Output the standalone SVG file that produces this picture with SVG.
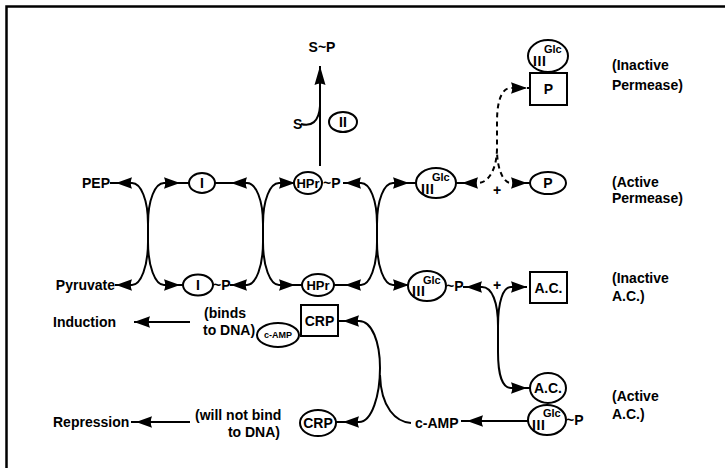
<svg xmlns="http://www.w3.org/2000/svg" width="725" height="468" viewBox="0 0 725 468">
<defs>
<style>
text{font-family:"Liberation Sans",Arial,Helvetica,sans-serif;font-weight:bold;font-size:14px;fill:#000}
.n{fill:#fff;stroke:#000;stroke-width:2}
.c{fill:none;stroke:#000;stroke-width:2}
.d{fill:none;stroke:#000;stroke-width:2;stroke-dasharray:5 4}
.m{text-anchor:middle}
.e{text-anchor:end}
.sup{font-size:11px}
.iii{font-size:14px;letter-spacing:0.6px}
.sm{font-size:9px}
.h{font-size:13px}
</style>
<marker id="ah" markerUnits="userSpaceOnUse" viewBox="-18 -7 19 14" refX="0" refY="0" markerWidth="19" markerHeight="14" orient="auto-start-reverse">
<path d="M0 0 L-16 -5.8 Q-13.5 0 -16 5.8 Z" fill="#000"/>
</marker>
<marker id="av" markerUnits="userSpaceOnUse" viewBox="-20 -7 21 14" refX="0" refY="0" markerWidth="21" markerHeight="14" orient="auto">
<path d="M0 0 L-19 -5.5 Q-16 0 -19 5.5 Z" fill="#000"/>
</marker>
</defs>
<rect width="725" height="468" fill="#fff"/>
<path d="M6.5 468 V6.5 H725" fill="none" stroke="#000" stroke-width="2.5"/>

<g id="connectors">
<path class="c" marker-start="url(#ah)" marker-end="url(#ah)" d="M116 183 H132 C141 183 148 200 148 224 V242 C148 266 141 285 132 285 H116"/>
<path class="c" marker-start="url(#ah)" marker-end="url(#ah)" d="M180 183 H164 C155 183 148 200 148 224 V242 C148 266 155 285 164 285 H180"/>
<path class="c" marker-start="url(#ah)" marker-end="url(#ah)" d="M231 183 H247 C256 183 263 200 263 224 V242 C263 266 256 285 247 285 H231"/>
<path class="c" marker-start="url(#ah)" marker-end="url(#ah)" d="M295 183 H279 C270 183 263 200 263 224 V242 C263 266 270 285 279 285 H295"/>
<path class="c" marker-start="url(#ah)" marker-end="url(#ah)" d="M345 183 H361 C370 183 377 200 377 224 V242 C377 266 370 285 361 285 H345"/>
<path class="c" marker-start="url(#ah)" marker-end="url(#ah)" d="M409 183 H393 C384 183 377 200 377 224 V242 C377 266 384 285 393 285 H409"/>
<path class="c" d="M110 183 H117 M115 285 H117 M179 183 H189 M179 285 H183 M215 183 H232 M230 285 H232 M294 285 H302 M343 183 H346 M334 285 H346 M408 183 H416 M455 183 H462 M527 88 H530 M527 183 H530 M463 287 H466 M527 388 H530 M338 321 H343 M336 422 H343 M461 421 H467 M131 422 H136"/>
<path class="c" marker-end="url(#av)" d="M320 166 V66"/>
<path class="c" d="M301 124 C311 127 319 122 320 106"/>
<path class="d" marker-start="url(#ah)" marker-end="url(#ah)" d="M462 183 H478 C489 183 497 168 497 148 V122 C497 100 502 88 511 88 H527"/>
<path class="d" marker-start="url(#ah)" d="M527 183 H511 C503 183 497 168 497 150"/>
<path class="c" marker-start="url(#ah)" marker-end="url(#ah)" d="M466 287 H482 C492 287 498 302 498 326 V352 C498 376 503 388 511 388 H527"/>
<path class="c" marker-start="url(#ah)" d="M527 287 H511 C503 287 498 302 498 326"/>
<path class="c" marker-start="url(#ah)" marker-end="url(#ah)" d="M343 321 H359 C372 321 380 342 380 368 C380 395 372 422 359 422 H343"/>
<path class="c" d="M411 423 C396 422 381 408 380 375"/>
<path class="c" marker-end="url(#ah)" d="M528 421 H467"/>
<path class="c" marker-end="url(#ah)" d="M190 322 H134"/>
<path class="c" marker-end="url(#ah)" d="M190 422 H136"/>
<text x="497" y="195" class="m">+</text>
<text x="497" y="290" class="m">+</text>
</g>

<g id="pep"><text x="110" y="188" class="e">PEP</text></g>
<g id="pyruvate"><text x="115" y="290" class="e">Pyruvate</text></g>
<g id="enzI"><ellipse class="n" cx="202" cy="183" rx="13" ry="10"/><text x="202" y="188" class="m">I</text></g>
<g id="enzIP"><ellipse class="n" cx="198" cy="285" rx="15" ry="10.5"/><text x="198" y="290" class="m">I</text><text x="213" y="290">~P</text></g>
<g id="hprP"><ellipse class="n" cx="308" cy="183" rx="14" ry="11"/><text x="308" y="188" class="m h">HPr</text><text x="323" y="188">~P</text></g>
<g id="hpr"><ellipse class="n" cx="318" cy="285" rx="16" ry="11"/><text x="318" y="290" class="m h">HPr</text></g>
<g id="sp"><text x="322" y="52" class="m">S~P</text></g>
<g id="s"><text x="293" y="129">S</text></g>
<g id="enzII"><ellipse class="n" cx="343" cy="122" rx="14" ry="10"/><text x="343" y="127" class="m">II</text></g>
<g id="iiiGlc"><ellipse class="n" cx="436" cy="183" rx="20" ry="15"/><text x="421" y="194" class="iii">III</text><text x="432" y="181" class="sup">Glc</text></g>
<g id="iiiGlcP"><ellipse class="n" cx="427" cy="286" rx="19" ry="15"/><text x="412" y="296" class="iii">III</text><text x="423" y="284" class="sup">Glc</text><text x="446" y="291">~P</text></g>
<g id="permeaseActive"><ellipse class="n" cx="548" cy="183" rx="18" ry="11"/><text x="548" y="188" class="m">P</text></g>
<g id="permeaseInactive"><rect class="n" x="530" y="73" width="37" height="32"/><text x="548.5" y="94" class="m">P</text><ellipse class="n" cx="548" cy="56" rx="20" ry="16"/><text x="533" y="66" class="iii">III</text><text x="544" y="53" class="sup">Glc</text></g>
<g id="acInactive"><rect class="n" x="530" y="272" width="37" height="31"/><text x="548.5" y="293" class="m">A.C.</text></g>
<g id="acActive"><ellipse class="n" cx="548" cy="388" rx="18" ry="15"/><text x="548" y="393" class="m">A.C.</text><ellipse class="n" cx="547" cy="420" rx="19" ry="15"/><text x="532" y="430" class="iii">III</text><text x="543" y="417" class="sup">Glc</text><text x="566" y="425">~P</text></g>
<g id="camp"><text x="415" y="428">c-AMP</text></g>
<g id="crpCamp"><text x="204" y="318">(binds</text><text x="203" y="335">to DNA)</text><ellipse class="n" cx="278" cy="335" rx="21" ry="12"/><text x="278" y="338" class="m sm">c-AMP</text><rect class="n" x="301" y="305" width="37" height="31"/><text x="319.5" y="326" class="m">CRP</text></g>
<g id="crp"><text x="195" y="420">(will not bind</text><text x="280" y="437" class="e">to DNA)</text><ellipse class="n" cx="318" cy="423" rx="18" ry="13"/><text x="318" y="428" class="m">CRP</text></g>
<g id="induction"><text x="53" y="327">Induction</text></g>
<g id="repression"><text x="53" y="427">Repression</text></g>
<g id="labels">
<text x="612" y="70">(Inactive</text><text x="612" y="90">Permease)</text>
<text x="612" y="187">(Active</text><text x="612" y="203">Permease)</text>
<text x="612" y="283">(Inactive</text><text x="612" y="301">A.C.)</text>
<text x="612" y="401">(Active</text><text x="612" y="419">A.C.)</text>
</g>
</svg>
